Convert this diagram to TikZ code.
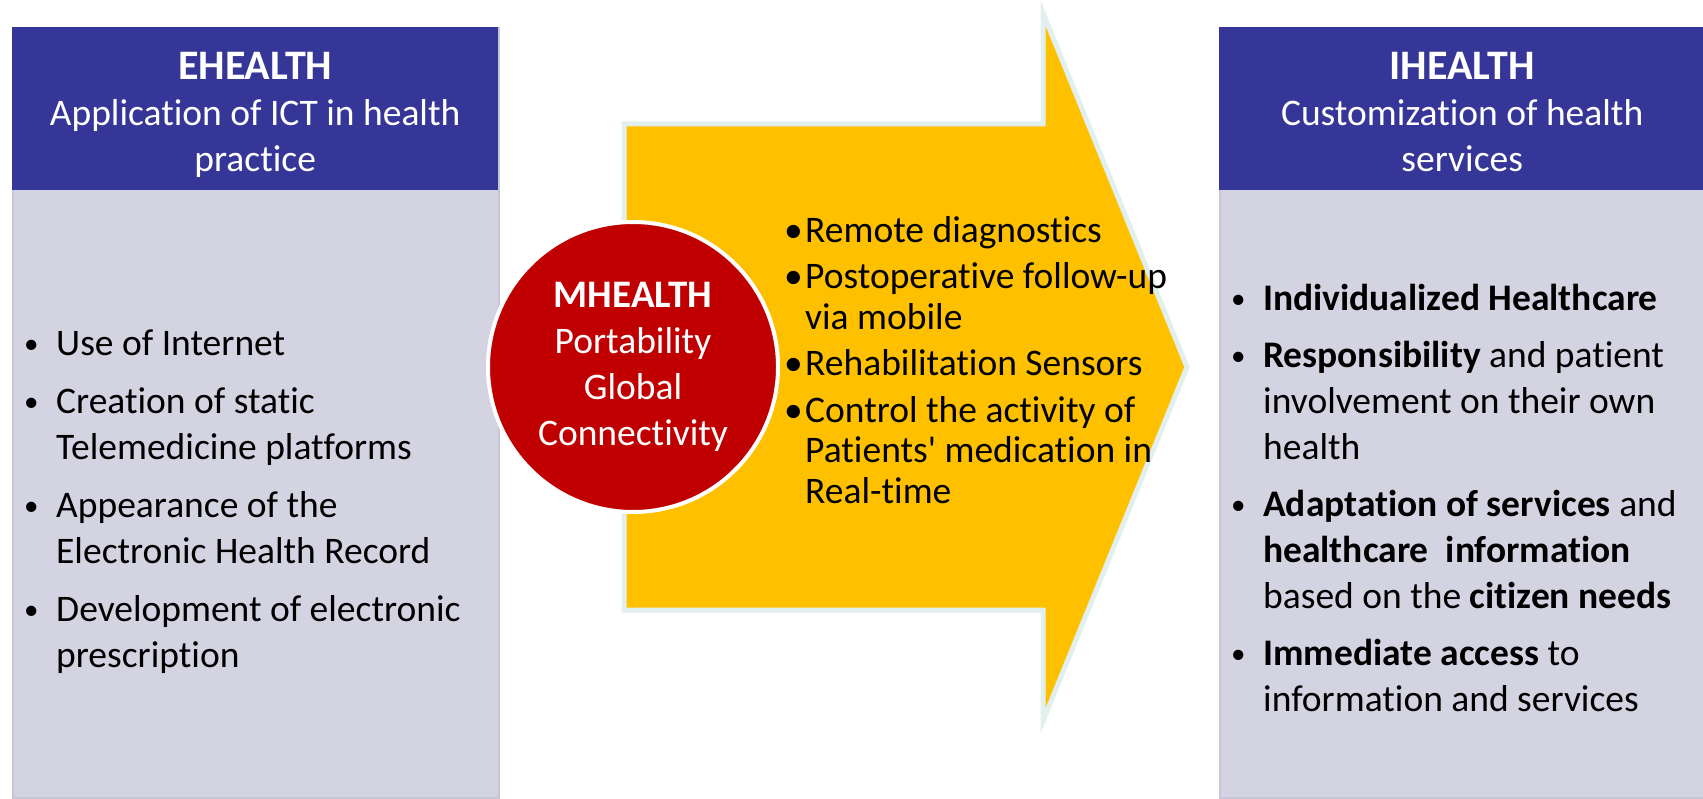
\documentclass[tikz,border=0pt]{standalone}
\usepackage{fontspec}
\setmainfont{Carlito}[Ligatures={TeX,NoCommon}]
\usetikzlibrary{positioning}

\definecolor{headblue}{RGB}{54,54,152}
\definecolor{bodygray}{RGB}{211,211,226}
\definecolor{edgegray}{RGB}{198,198,216}
\definecolor{arrowgold}{RGB}{255,192,0}
\definecolor{arrowrim}{RGB}{226,239,239}
\definecolor{hubred}{RGB}{192,0,0}

\newcommand\bul{\makebox[34pt][l]{\hspace*{2pt}\raisebox{2pt}{\fontsize{29}{29}\selectfont\textbullet}}}
\newcommand\ind{\hspace*{34pt}}
\newcommand\mbul{\makebox[21pt][l]{\textbullet}}
\newcommand\mind{\hspace*{21pt}}
\newcommand\bigtitle[1]{{\fontsize{42}{46}\selectfont\bfseries #1}}

\begin{document}
\begin{tikzpicture}[x=1pt, y=-1pt,
	font=\fontsize{37.5}{46}\selectfont,
	bodybox/.style={fill=bodygray, draw=edgegray, line width=1.5pt, anchor=north west,
		minimum width=486pt, minimum height=770pt, inner sep=0pt},
	headbox/.style={fill=headblue, anchor=north west,
		minimum width=486pt, minimum height=163pt, inner sep=0pt},
	headtext/.style={text=white, align=center, inner sep=0pt, anchor=north},
	itemlist/.style={align=left, inner sep=0pt, anchor=north west},
	hub/.style={circle, fill=hubred, draw=white, line width=4pt, minimum size=290pt,
		inner sep=0pt, text=white, align=center}]

	\useasboundingbox (0,0) rectangle (1703,799);

	% columns
	\node [bodybox] (ebox) at (12,27) {};
	\node [headbox] (ehead) at (12,27) {};
	\node [bodybox] (ibox) at (1219,27) {};
	\node [headbox] (ihead) at (1219,27) {};

	\node [headtext, below=25pt of ehead.north] (etitle)
		{\bigtitle{EHEALTH}\\Application of ICT in health\\practice};
	\node [headtext, below=25pt of ihead.north] (ititle)
		{\bigtitle{IHEALTH}\\Customization of health\\services};

	% arrow
	\draw [arrowrim, line width=5pt, fill=arrowgold]
		(624,124) -- (1043,124) -- (1043,13) -- (1187,367)
		-- (1043,721) -- (1043,610) -- (624,610) -- cycle;

	\node [hub] (mhub) at (633,367)
		{{\fontsize{39}{46}\selectfont\bfseries MHEALTH}\\Portability\\Global\\Connectivity};

	% lists
	\node [itemlist] (elist) at (22,330)
		{\bul Use of Internet\\[12pt]
		 \bul Creation of static\\ \ind Telemedicine platforms\\[12pt]
		 \bul Appearance of the\\ \ind Electronic Health Record\\[12pt]
		 \bul Development of electronic\\ \ind prescription};

	\node [itemlist, font=\fontsize{37.5}{40.5}\selectfont] (mlist) at (784,216)
		{\mbul Remote diagnostics\\[6pt]
		 \mbul Postoperative follow-up\\ \mind via mobile\\[6pt]
		 \mbul Rehabilitation Sensors\\[6pt]
		 \mbul Control the activity of\\ \mind Patients\textquotesingle{} medication in\\ \mind Real-time};

	\node [itemlist] (ilist) at (1229,284)
		{\bul \textbf{Individualized Healthcare}\\[11pt]
		 \bul \textbf{Responsibility} and patient\\ \ind involvement on their own\\ \ind health\\[11pt]
		 \bul \textbf{Adaptation of services} and\\ \ind \textbf{healthcare\ \ information}\\ \ind based on the \textbf{citizen needs}\\[11pt]
		 \bul \textbf{Immediate access} to\\ \ind information and services};
\end{tikzpicture}
\end{document}
